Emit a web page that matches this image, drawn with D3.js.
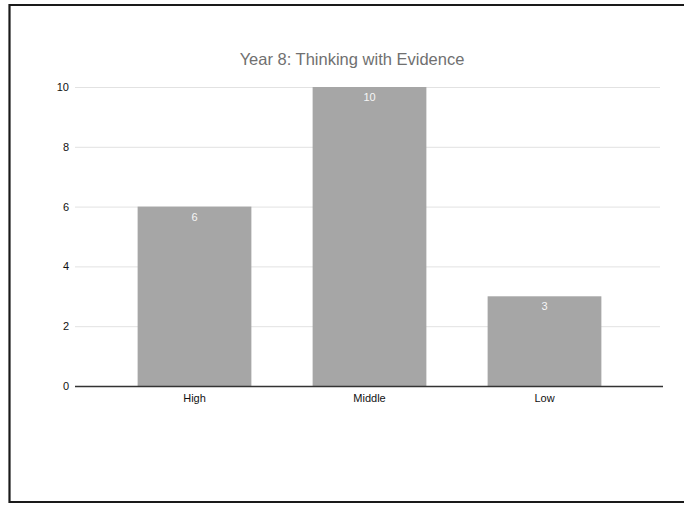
<!DOCTYPE html>
<html>
<head>
<meta charset="utf-8">
<script src="https://cdn.jsdelivr.net/npm/d3@7"></script>
<style>
  html, body { margin: 0; padding: 0; background: #fff; }
  svg { display: block; }
</style>
</head>
<body>
<script>
// Chart data
const categories = ["High", "Middle", "Low"];
const counts = [6, 10, 3];
const yTicks = [0, 2, 4, 6, 8, 10];
const chartTitle = "Year 8: Thinking with Evidence";

const W = 684, H = 505;
const svg = d3.select("body").append("svg")
  .attr("width", W).attr("height", H);

const font = "Liberation Sans, Arial, sans-serif";

// Page frame
svg.append("path")
  .attr("d", `M${W},5 H9.5 V502 H${W}`)
  .attr("fill", "none")
  .attr("stroke", "#1a1a1a")
  .attr("stroke-width", 2.2);

const x = d3.scaleBand()
  .domain(categories)
  .range([107, 632])
  .paddingInner(0.35)
  .paddingOuter(0.175);

const y = d3.scaleLinear()
  .domain([0, 10])
  .range([386, 87]);

// Title
svg.append("text")
  .attr("x", 352).attr("y", 65)
  .attr("text-anchor", "middle")
  .attr("font-family", font)
  .attr("font-size", 16.5)
  .attr("fill", "#707070")
  .text(chartTitle);

// Gridlines
const grid = svg.append("g")
  .attr("transform", "translate(75,0)")
  .call(d3.axisLeft(y).tickValues(yTicks).tickSize(-585).tickFormat(""));
grid.select(".domain").remove();
grid.selectAll(".tick line").attr("stroke", "#e2e2e2").attr("stroke-width", 1);

// Y tick labels
const yAxis = svg.append("g")
  .attr("transform", "translate(75,0)")
  .call(d3.axisLeft(y).tickValues(yTicks).tickSize(0).tickPadding(6));
yAxis.select(".domain").remove();
yAxis.selectAll("text")
  .attr("font-family", font)
  .attr("font-size", 11)
  .attr("fill", "#111");

// Bars
svg.append("g").selectAll("rect")
  .data(counts)
  .join("rect")
  .attr("x", (d, i) => x(categories[i]))
  .attr("y", d => y(d))
  .attr("width", x.bandwidth())
  .attr("height", d => y(0) - y(d))
  .attr("fill", "#a6a6a6");

// Value labels inside bars
svg.append("g").selectAll("text")
  .data(counts)
  .join("text")
  .attr("x", (d, i) => x(categories[i]) + x.bandwidth() / 2)
  .attr("y", d => y(d) + 14)
  .attr("text-anchor", "middle")
  .attr("font-family", font)
  .attr("font-size", 11)
  .attr("fill", "#f6f6f6")
  .text(d => d);

// X axis baseline and category labels
const xAxis = svg.append("g")
  .attr("transform", `translate(0,${y(0)})`)
  .call(d3.axisBottom(x).tickSize(0).tickPadding(8));
xAxis.select(".domain")
  .attr("d", "M75,0.5H663")
  .attr("stroke", "#333")
  .attr("stroke-width", 1.5);
xAxis.selectAll("text")
  .attr("font-family", font)
  .attr("font-size", 11)
  .attr("fill", "#111");
</script>
</body>
</html>
